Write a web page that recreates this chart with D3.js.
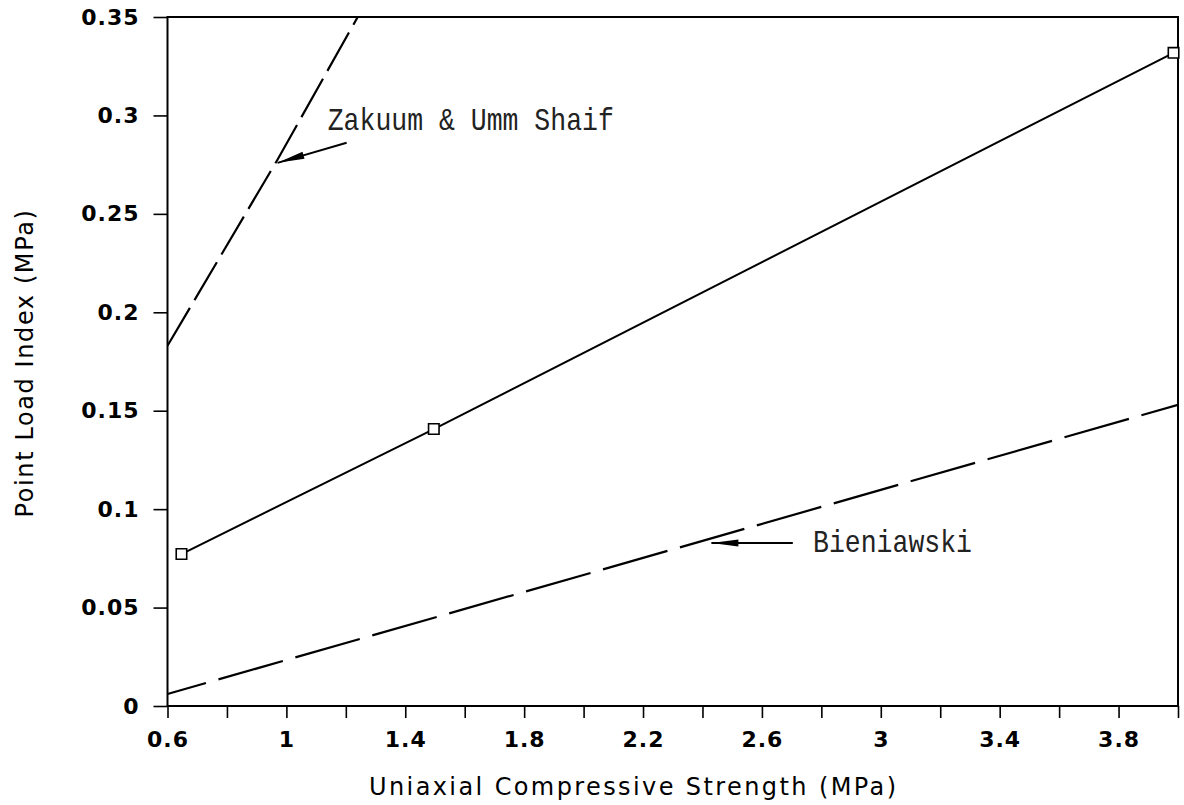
<!DOCTYPE html>
<html><head><meta charset="utf-8">
<script src="https://cdn.jsdelivr.net/npm/d3@7"></script>
<style>body{margin:0;background:#fff}</style>
</head><body><svg id="c" width="1184" height="805"></svg>
<script>
// ---- data ----
const xTickValues = [0.6,0.8,1.0,1.2,1.4,1.6,1.8,2.0,2.2,2.4,2.6,2.8,3.0,3.2,3.4,3.6,3.8,4.0];
const xLabelValues = [0.6,1.0,1.4,1.8,2.2,2.6,3.0,3.4,3.8];
const xTickLabels = ["0.6","1","1.4","1.8","2.2","2.6","3","3.4","3.8"];
const yTickValues = [0,0.05,0.1,0.15,0.2,0.25,0.3,0.35];
const yTickLabels = ["0","0.05","0.1","0.15","0.2","0.25","0.3","0.35"];

const measuredX = [0.647, 1.496, 3.985];
const measuredY = [0.0772, 0.1407, 0.3318];

const bieniawskiX = [0.6, 4.0];
const bieniawskiY = [0.0061, 0.153];

const zakuumX = [0.6, 0.97, 1.24];
const zakuumY = [0.183, 0.2775, 0.35];

const annotLabels = ["Zakuum & Umm Shaif", "Bieniawski"];
const annotTextX = [1.139, 2.772];
const annotTextY = [0.2927, 0.0783];
const arrowTailX = [1.2027, 2.704];
const arrowTailY = [0.2861, 0.0828];
const arrowTipX = [0.9704, 2.43];
const arrowTipY = [0.2759, 0.0828];

const xTitle = "Uniaxial Compressive Strength (MPa)";
const yTitle = "Point Load Index (MPa)";

// ---- drawing ----
const svg = d3.select("#c");
const x = d3.scaleLinear().domain([0.6, 4.0]).range([167.5, 1178]);
const y = d3.scaleLinear().domain([0, 0.35]).range([706, 17]);

svg.append("rect").attr("width",1184).attr("height",805).attr("fill","#fff");

svg.append("defs").append("clipPath").attr("id","plotclip")
  .append("rect").attr("x", x(0.6)).attr("y", y(0.35))
  .attr("width", x(4.0)-x(0.6)).attr("height", y(0)-y(0.35));

const tickFont = "'DejaVu Sans', sans-serif";

const xAxis = d3.axisBottom(x).tickValues(xTickValues).tickSize(12).tickPadding(13)
  .tickFormat(v => { const i = xLabelValues.findIndex(l => Math.abs(l - v) < 1e-9); return i >= 0 ? xTickLabels[i] : ""; });
const gx = svg.append("g").attr("transform", `translate(0,${y(0)})`).call(xAxis);
gx.select(".domain").remove();
gx.selectAll(".tick line").attr("stroke","#000").attr("stroke-width",1.6);
gx.selectAll(".tick text").attr("fill","#000").style("font-family",tickFont)
  .style("font-size","22px").style("font-weight","bold").style("letter-spacing","1px");

const yAxis = d3.axisLeft(y).tickValues(yTickValues).tickSize(14).tickPadding(14)
  .tickFormat((v, i) => yTickLabels[i]);
const gy = svg.append("g").attr("transform", `translate(${x(0.6)},0)`).call(yAxis);
gy.select(".domain").remove();
gy.selectAll(".tick line").attr("stroke","#000").attr("stroke-width",1.6);
gy.selectAll(".tick text").attr("fill","#000").style("font-family",tickFont)
  .style("font-size","22px").style("font-weight","bold").style("letter-spacing","1px");

// frame
svg.append("rect").attr("x", x(0.6)).attr("y", y(0.35))
  .attr("width", x(4.0)-x(0.6)).attr("height", y(0)-y(0.35))
  .attr("fill","none").attr("stroke","#000").attr("stroke-width",2);

const line = d3.line().x(d => x(d[0])).y(d => y(d[1]));
const plot = svg.append("g").attr("clip-path","url(#plotclip)");

plot.append("path").datum(bieniawskiX.map((v,i)=>[v,bieniawskiY[i]]))
  .attr("d", line).attr("fill","none").attr("stroke","#000").attr("stroke-width",2.2)
  .attr("stroke-dasharray","67 13").attr("stroke-dashoffset",27);

plot.append("path").datum(zakuumX.map((v,i)=>[v,zakuumY[i]]))
  .attr("d", line).attr("fill","none").attr("stroke","#000").attr("stroke-width",2.2)
  .attr("stroke-dasharray","44 9").attr("stroke-dashoffset",0);

const meas = measuredX.map((v,i)=>[v,measuredY[i]]);
svg.append("path").datum(meas).attr("d", line).attr("fill","none")
  .attr("stroke","#000").attr("stroke-width",2);
svg.selectAll(".mk").data(meas).enter().append("path").attr("class","mk")
  .attr("d", d3.symbol(d3.symbolSquare, 110))
  .attr("transform", d => `translate(${x(d[0])},${y(d[1])})`)
  .attr("fill","#fff").attr("stroke","#000").attr("stroke-width",1.6);

// annotations
annotLabels.forEach((lab, i) => {
  const tx = x(arrowTipX[i]), ty = y(arrowTipY[i]);
  const sx = x(arrowTailX[i]), sy = y(arrowTailY[i]);
  svg.append("line").attr("x1", sx).attr("y1", sy).attr("x2", tx).attr("y2", ty)
    .attr("stroke","#000").attr("stroke-width",2);
  const dx = sx - tx, dy = sy - ty, L = Math.hypot(dx, dy);
  const ux = dx / L, uy = dy / L, hl = 27, hw = 3.6;
  const bx = tx + ux*hl, by = ty + uy*hl;
  svg.append("path")
    .attr("d", `M${tx},${ty}L${bx - uy*hw},${by + ux*hw}L${bx + uy*hw},${by - ux*hw}Z`)
    .attr("fill","#000");
  svg.append("text").attr("transform", `translate(${x(annotTextX[i])},${y(annotTextY[i])}) scale(1,1.15)`)
    .style("font-family","'Liberation Mono', 'Courier New', monospace")
    .style("font-size","26.5px").attr("fill","#222").text(lab);
});

// titles
svg.append("text").attr("x", 369).attr("y", 795)
  .style("font-family",tickFont).style("font-size","24px").style("letter-spacing","2.4px")
  .attr("fill","#000").text(xTitle);
svg.append("text").attr("transform","translate(33,363) rotate(-90)").attr("text-anchor","middle")
  .style("font-family",tickFont).style("font-size","24px").style("letter-spacing","1.6px")
  .attr("fill","#000").text(yTitle);
</script></body></html>
